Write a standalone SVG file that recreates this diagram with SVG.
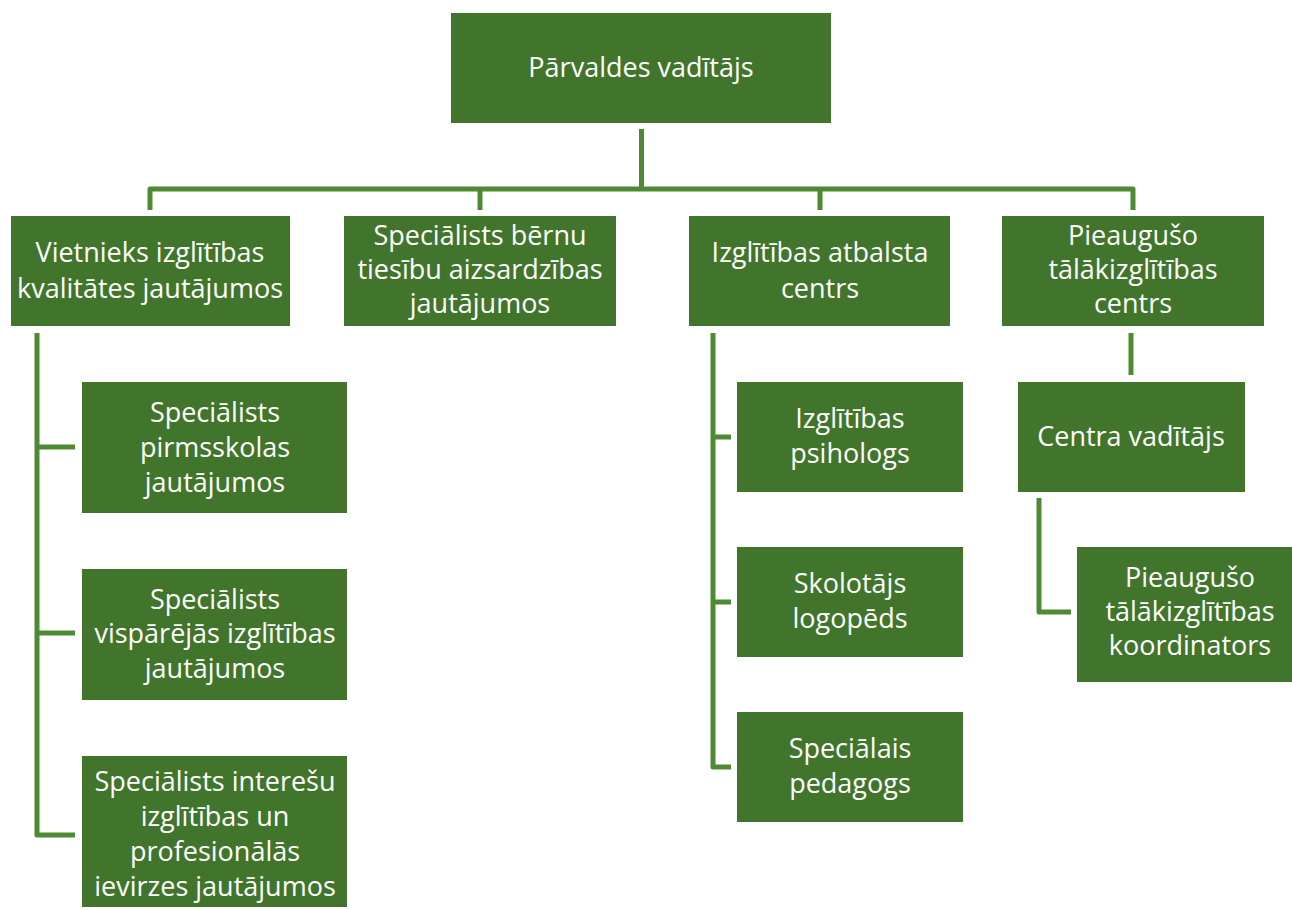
<svg xmlns="http://www.w3.org/2000/svg" width="1292" height="910" viewBox="0 0 1292 910">
<style>
.box{fill:#41752C}
.t{font-family:"Open Sans","Liberation Sans",sans-serif;font-size:27px;fill:#ffffff;text-anchor:middle}
.c{fill:none;stroke:#4E8A33;stroke-width:5;stroke-linejoin:round}
</style>
<rect width="1292" height="910" fill="#ffffff"/>
<g id="connectors">
<path class="c" d="M641.5 129 V189"/>
<path class="c" d="M150 210 V189 H1133 V210"/>
<path class="c" d="M480 189 V210"/>
<path class="c" d="M820 189 V210"/>
<path class="c" d="M37 333 V835 H75 M37 447 H75 M37 633 H75"/>
<path class="c" d="M713 333 V767 H731 M713 437 H731 M713 602 H731"/>
<path class="c" d="M1131 333 V375"/>
<path class="c" d="M1039 498 V612 H1071"/>
</g>
<g id="n-top"><rect class="box" x="451" y="13" width="380" height="110"/><text class="t" x="641" y="77">Pārvaldes vadītājs</text></g>
<g id="n-vietnieks"><rect class="box" x="11" y="216" width="279" height="110"/><text class="t" x="150" y="262">Vietnieks izglītības</text><text class="t" x="150" y="298">kvalitātes jautājumos</text></g>
<g id="n-bernu"><rect class="box" x="344" y="216" width="272" height="110"/><text class="t" x="480" y="245">Speciālists bērnu</text><text class="t" x="480" y="279">tiesību aizsardzības</text><text class="t" x="480" y="313">jautājumos</text></g>
<g id="n-atbalsta"><rect class="box" x="689" y="216" width="261" height="110"/><text class="t" x="820" y="262">Izglītības atbalsta</text><text class="t" x="820" y="298">centrs</text></g>
<g id="n-pieaugušo-centrs"><rect class="box" x="1002" y="216" width="262" height="110"/><text class="t" x="1133" y="245">Pieaugušo</text><text class="t" x="1133" y="279">tālākizglītības</text><text class="t" x="1133" y="313">centrs</text></g>
<g id="n-pirmsskolas"><rect class="box" x="82" y="382" width="265" height="131"/><text class="t" x="215" y="422">Speciālists</text><text class="t" x="215" y="457">pirmsskolas</text><text class="t" x="215" y="492">jautājumos</text></g>
<g id="n-vispārējās"><rect class="box" x="82" y="569" width="265" height="131"/><text class="t" x="215" y="609">Speciālists</text><text class="t" x="215" y="643">vispārējās izglītības</text><text class="t" x="215" y="678">jautājumos</text></g>
<g id="n-interešu"><rect class="box" x="82" y="756" width="265" height="151"/><text class="t" x="215" y="791">Speciālists interešu</text><text class="t" x="215" y="826">izglītības un</text><text class="t" x="215" y="861">profesionālās</text><text class="t" x="215" y="896">ievirzes jautājumos</text></g>
<g id="n-psihologs"><rect class="box" x="737" y="382" width="226" height="110"/><text class="t" x="850" y="428">Izglītības</text><text class="t" x="850" y="463">psihologs</text></g>
<g id="n-logopeds"><rect class="box" x="737" y="547" width="226" height="110"/><text class="t" x="850" y="593">Skolotājs</text><text class="t" x="850" y="628">logopēds</text></g>
<g id="n-pedagogs"><rect class="box" x="737" y="712" width="226" height="110"/><text class="t" x="850" y="758">Speciālais</text><text class="t" x="850" y="793">pedagogs</text></g>
<g id="n-centra"><rect class="box" x="1018" y="382" width="227" height="110"/><text class="t" x="1131" y="446">Centra vadītājs</text></g>
<g id="n-koordinators"><rect class="box" x="1077" y="547" width="227" height="135"/><text class="t" x="1190" y="587">Pieaugušo</text><text class="t" x="1190" y="621">tālākizglītības</text><text class="t" x="1190" y="655">koordinators</text></g>
</svg>
